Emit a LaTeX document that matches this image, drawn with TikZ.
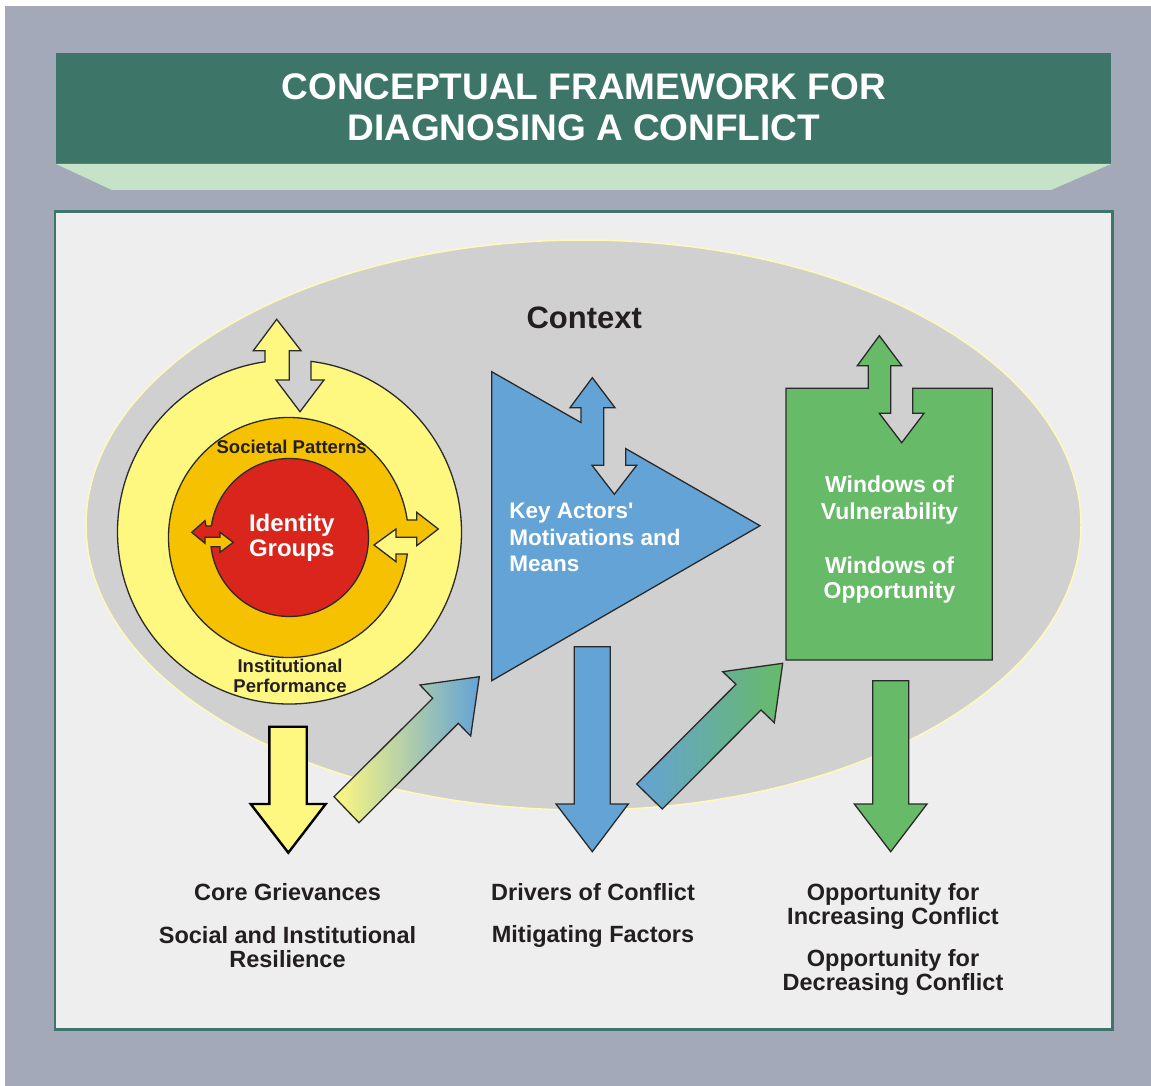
\documentclass[tikz,border=0pt]{standalone}
\usepackage{fontspec}
\setmainfont{Liberation Sans}[Ligatures=TeXOff]
\usetikzlibrary{shadings}
\definecolor{bggrey}{HTML}{A3A9B8}
\definecolor{titlegreen}{HTML}{3D7569}
\definecolor{lightgreen}{HTML}{C6E3C8}
\definecolor{panelbg}{HTML}{EEEEEE}
\definecolor{ellgrey}{HTML}{D0D0D0}
\definecolor{ellborder}{HTML}{FFF9B8}
\definecolor{ylw}{HTML}{FFF880}
\definecolor{orng}{HTML}{F6C100}
\definecolor{rd}{HTML}{DA251D}
\definecolor{blu}{HTML}{64A3D5}
\definecolor{grn}{HTML}{67BA68}
\definecolor{txtdark}{HTML}{231F20}
\definecolor{outl}{HTML}{2A2A2A}
\tikzset{
  shapeline/.style={draw=outl, line width=1.3pt, line join=miter},
  lbl/.style={inner sep=0pt, outer sep=0pt, anchor=base, text=txtdark, font=\bfseries},
  wlbl/.style={inner sep=0pt, outer sep=0pt, anchor=base, text=white, font=\bfseries},
  botlbl/.style={lbl, font=\bfseries\fontsize{23.5}{24}\selectfont},
}
\begin{document}
\begin{tikzpicture}[x=1pt,y=1pt]
\useasboundingbox (0,0) rectangle (1151,-1086);
\fill[white] (0,0) rectangle (1151,-1086);
\fill[bggrey] (5,-6) rectangle (1151,-1086);
% title
\fill[titlegreen] (56,-53) rectangle (1111,-164);
\fill[lightgreen] (56,-164) -- (1111,-164) -- (1051,-190) -- (112,-190) -- cycle;
\node[wlbl, font=\bfseries\fontsize{37}{41}\selectfont] (t1) at (583.7,-100) {CONCEPTUAL FRAMEWORK FOR};
\node[wlbl, font=\bfseries\fontsize{37}{41}\selectfont] (t2) at (583.7,-141) {DIAGNOSING A CONFLICT};
% panel
\draw[fill=panelbg, draw=titlegreen, line width=2.5pt] (55,-211.5) rectangle (1112.5,-1029.5);
% context ellipse
\draw[fill=ellgrey, draw=ellborder, line width=1.5pt] (583.5,-525) ellipse [x radius=497.5, y radius=285];
\node[lbl, font=\bfseries\fontsize{31}{35}\selectfont] (ctx) at (584.3,-328.3) {Context};
% yellow ring with double arrow
\path[shapeline, fill=ylw]
  ([shift={(98.2:172)}]289.5,-532) arc[start angle=98.2, end angle=442.8, radius=172]
  -- (311,-380) -- (324,-380) -- (300,-411.7) -- (276,-380) -- (289.3,-380)
  -- (289.3,-350.7) -- (301,-350.7) -- (276.7,-319.3) -- (253.3,-350.7) -- (265,-350.7) -- cycle;
% orange ring with double arrow
\path[shapeline, fill=orng]
  ([shift={(8.39:120)}]288.5,-537.5) arc[start angle=8.39, end angle=352.1, radius=120]
  -- (396,-554) -- (396,-561.7) -- (374,-545) -- (396,-529) -- (396,-537.3)
  -- (416.7,-537.3) -- (416.7,-545.7) -- (438.3,-529) -- (416.7,-512.3) -- (416.7,-520) -- cycle;
% red circle with double arrow
\path[shapeline, fill=rd]
  ([shift={(186.69:79)}]289.5,-537.5) arc[start angle=186.69, end angle=531.63, radius=79]
  -- (206,-526) -- (205,-520.7) -- (191.7,-532.3) -- (205,-543.3) -- (205,-537.3)
  -- (220,-537.3) -- (220,-532.3) -- (233.3,-542.3) -- (220,-552.3) -- (220,-546.7) -- cycle;
\node[lbl, font=\bfseries\fontsize{18.5}{20.5}\selectfont] (sp) at (291.7,-453.3) {Societal Patterns};
\node[wlbl, font=\bfseries\fontsize{24}{25}\selectfont] (ig1) at (291.7,-531) {Identity};
\node[wlbl, font=\bfseries\fontsize{24}{25}\selectfont] (ig2) at (291.7,-556) {Groups};
\node[lbl, font=\bfseries\fontsize{18.5}{20.5}\selectfont] (ip1) at (290,-672.3) {Institutional};
\node[lbl, font=\bfseries\fontsize{18.5}{20.5}\selectfont] (ip2) at (290,-692.7) {Performance};
% blue triangle
\path[shapeline, fill=blu]
  (491.7,-371.7) -- (581,-422.6) -- (581,-407.7) -- (570,-407.7) -- (592.3,-377.7)
  -- (615,-407.7) -- (603.7,-407.7) -- (603.7,-465.3) -- (592,-465.3) -- (614.3,-494.3)
  -- (636.7,-465.3) -- (625.7,-465.3) -- (625.7,-448.6) -- (760,-525.7) -- (491.7,-680.7) -- cycle;
\node[wlbl, anchor=base west, font=\bfseries\fontsize{22.5}{27}\selectfont] (ka1) at (509.3,-518) {Key Actors'};
\node[wlbl, anchor=base west, font=\bfseries\fontsize{22.5}{27}\selectfont] (ka2) at (509.3,-545) {Motivations and};
\node[wlbl, anchor=base west, font=\bfseries\fontsize{22.5}{27}\selectfont] (ka3) at (509.3,-571.7) {Means};
% green rectangle
\path[shapeline, fill=grn]
  (786,-388.3) -- (868.3,-388.3) -- (868.3,-365.7) -- (857.3,-365.7) -- (879.3,-335.7)
  -- (901.7,-365.7) -- (890.7,-365.7) -- (890.7,-413.3) -- (879.3,-413.3) -- (901.7,-442.7)
  -- (924,-413.3) -- (912.7,-413.3) -- (912.7,-388.3) -- (992.3,-388.3) -- (992.3,-660) -- (786,-660) -- cycle;
\node[wlbl, font=\bfseries\fontsize{23}{27}\selectfont] (wv1) at (889.5,-492.3) {Windows of};
\node[wlbl, font=\bfseries\fontsize{23}{27}\selectfont] (wv2) at (889.5,-519.3) {Vulnerability};
\node[wlbl, font=\bfseries\fontsize{23}{27}\selectfont] (wo1) at (889.5,-573.3) {Windows of};
\node[wlbl, font=\bfseries\fontsize{23}{27}\selectfont] (wo2) at (889.5,-598.3) {Opportunity};
% down arrows
\path[draw=black, line width=2.4pt, fill=ylw]
  (269.3,-726.7) -- (306.7,-726.7) -- (306.7,-804) -- (325.7,-804) -- (288.3,-852.7) -- (250.7,-804) -- (269.3,-804) -- cycle;
\path[shapeline, fill=blu]
  (574.3,-646.7) -- (610.3,-646.7) -- (610.3,-804) -- (628.3,-804) -- (592.3,-851.7) -- (556,-804) -- (574.3,-804) -- cycle;
\path[shapeline, fill=grn]
  (872.7,-680.7) -- (908.7,-680.7) -- (908.7,-804) -- (927,-804) -- (890.7,-851.7) -- (854.3,-804) -- (872.7,-804) -- cycle;
% diagonal gradient arrows
\path[shapeline, left color=ylw, right color=blu]
  (334,-796.7) -- (432.7,-698.3) -- (420,-685) -- (479.3,-676.7) -- (470.7,-736) -- (458.3,-723.3) -- (359,-822.7) -- cycle;
\path[shapeline, left color=blu, right color=grn]
  (636.7,-784) -- (736,-684.3) -- (722.7,-671.7) -- (782.7,-663.3) -- (774.3,-722.7) -- (761,-710) -- (662.3,-809) -- cycle;
% bottom labels
\node[botlbl] (cg) at (287.5,-900.7) {Core Grievances};
\node[botlbl] (si1) at (287.5,-943.3) {Social and Institutional};
\node[botlbl] (si2) at (287.5,-967.3) {Resilience};
\node[botlbl] (dc) at (593,-900.7) {Drivers of Conflict};
\node[botlbl] (mf) at (593,-942.7) {Mitigating Factors};
\node[botlbl] (oi1) at (893,-900.7) {Opportunity for};
\node[botlbl] (oi2) at (893,-924) {Increasing Conflict};
\node[botlbl] (od1) at (893,-966.7) {Opportunity for};
\node[botlbl] (od2) at (893,-990.7) {Decreasing Conflict};
\end{tikzpicture}
\end{document}
